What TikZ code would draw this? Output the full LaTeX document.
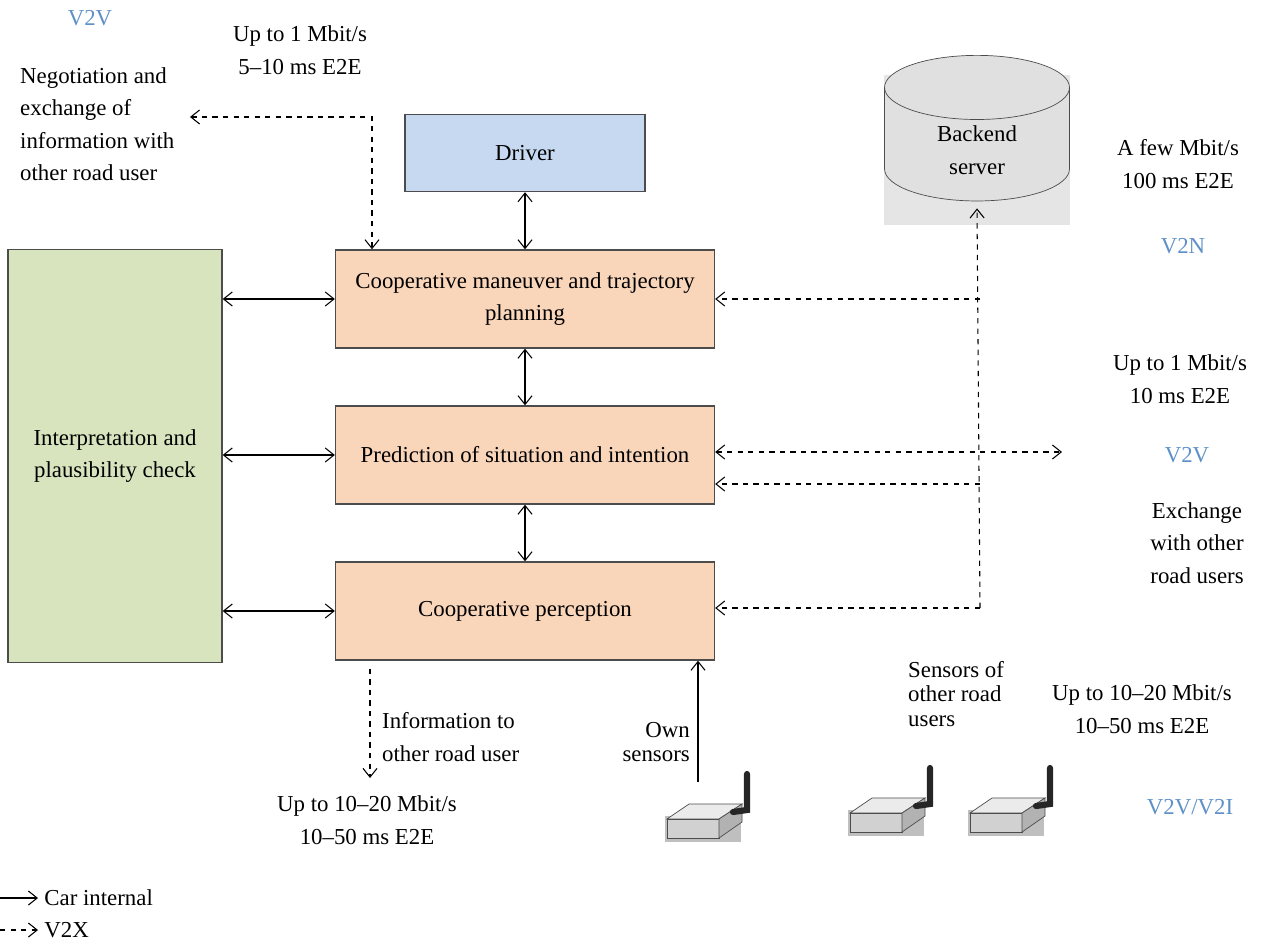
\documentclass[tikz,border=0pt]{standalone}
\usepackage{fontspec}
\setmainfont{Liberation Serif}
\usetikzlibrary{shapes.geometric,arrows.meta,positioning}
\definecolor{v2xblue}{RGB}{95,145,200}
\definecolor{driverfill}{RGB}{198,217,240}
\definecolor{stepfill}{RGB}{249,213,186}
\definecolor{checkfill}{RGB}{215,228,189}

\begin{document}
\begin{tikzpicture}[
        x=0.02cm, y=-0.02cm,
        font=\fontsize{13}{18.5}\selectfont,
        >={Straight Barb[length=5pt,width=8pt]},
        box/.style={rectangle, draw=black!70, thick, fill=stepfill, minimum width=7.58cm, minimum height=1.96cm, align=center, inner sep=2pt},
        inner/.style={<->, semithick},
        outer/.style={<->, semithick, dashed},
        tag/.style={text=v2xblue},
        note/.style={align=center},
        tight/.style={font=\fontsize{13}{14}\selectfont},
        router/.pic={
            \fill[black!25] (-2,44) rectangle (74,70);
            \filldraw[draw=black!70, fill=black!8] (0,47) -- (22,32) -- (75,32) -- (52,47) -- cycle;
            \filldraw[draw=black!70, fill=black!18] (0,47) rectangle (52,66);
            \filldraw[draw=black!70, fill=black!30] (52,47) -- (75,32) -- (75,50) -- (52,66) -- cycle;
            \draw[line width=3.5pt, black!85, line cap=round] (66,40) -- (80,38) -- (80,2);
        }
    ]
    \useasboundingbox (0,0) rectangle (1287,952);

    % Vehicle side
    \node[box, fill=driverfill, minimum width=4.8cm, minimum height=1.54cm] (driver) at (525,153) {Driver};
    \node[box] (maneuver) at (525,299) {Cooperative maneuver and trajectory\\planning};
    \node[box] (prediction) at (525,455) {Prediction of situation and intention};
    \node[box] (perception) at (525,611) {Cooperative perception};
    \node[rectangle, draw=black!70, thick, fill=checkfill, minimum width=4.28cm, minimum height=8.26cm, align=center] (check) at (115,456) {Interpretation and\\plausibility check};

    \fill[black!10] (884,75) rectangle (1070,225);
    \node[cylinder, shape border rotate=90, aspect=0.7, draw=black!70, fill=black!12, minimum width=3.7cm, minimum height=2.9cm, align=center] (server) at (977,150) {Backend\\server};

    % Car internal links
    \draw[inner] (driver) -- (maneuver);
    \draw[inner] (maneuver) -- (prediction);
    \draw[inner] (prediction) -- (perception);
    \draw[inner] (check.east |- maneuver) -- (maneuver);
    \draw[inner] (check.east |- prediction) -- (prediction);
    \draw[inner] (check.east |- perception) -- (perception);

    % V2X links
    \coordinate (negotiate) at (190,117);
    \coordinate (corner) at (372,117);
    \draw[outer] (negotiate) -- (corner) -- (corner |- maneuver.north);
    \coordinate (trunk-top) at (980,299);
    \coordinate (trunk-low) at (980,484);
    \coordinate (trunk-bot) at (980,608);
    \draw[->, semithick, dashed] (trunk-top) -- (trunk-top -| maneuver.east);
    \draw[->, semithick, dashed] (trunk-low) -- (trunk-low -| prediction.east);
    \draw[->, semithick, dashed] (trunk-bot) -- (trunk-bot -| perception.east);
    \draw[->, semithick, dashed] (trunk-bot) -- ([yshift=-4pt]server.south);
    \coordinate (v2v-end) at (1062,452);
    \draw[outer] (v2v-end -| prediction.east) -- (v2v-end);
    \coordinate (info-end) at (370,778);
    \draw[->, semithick, dashed] (info-end |- perception.south) ++(0,8) -- (info-end);
    \coordinate (own-end) at (698,782);
    \draw[->, semithick] (own-end) -- (own-end |- perception.south);

    % Sensors
    \pic at (667,772) {router};
    \pic at (850,766) {router};
    \pic at (970,766) {router};

    % Labels
    \node[tag] (v2v-top) at (90,18) {V2V};
    \node[note] (rate-top) at (300,50) {Up to 1 Mbit/s\\5–10 ms E2E};
    \node[align=left, anchor=west] (negotiate-text) at (14,124) {Negotiation and\\exchange of\\information with\\other road user};
    \node[note] (rate-server) at (1178,164) {A few Mbit/s\\100 ms E2E};
    \node[tag] (v2n) at (1183,246) {V2N};
    \node[note] (rate-mid) at (1180,379) {Up to 1 Mbit/s\\10 ms E2E};
    \node[tag] (v2v-mid) at (1187,455) {V2V};
    \node[note] (exchange) at (1197,543) {Exchange\\with other\\road users};
    \node[align=left, anchor=west, tight] (others) at (902,694) {Sensors of\\other road\\users};
    \node[note] (rate-sensor) at (1142,709) {Up to 10–20 Mbit/s\\10–50 ms E2E};
    \node[tag] (v2v-v2i) at (1190,807) {V2V/V2I};
    \node[align=left, anchor=west] (info-text) at (376,737) {Information to\\other road user};
    \node[note] (rate-info) at (367,820) {Up to 10–20 Mbit/s\\10–50 ms E2E};
    \node[align=right, anchor=east, tight] (own) at (696,742) {Own\\sensors};

    % Legend
    \coordinate (leg-a) at (0,898);
    \coordinate (leg-b) at (0,930);
    \draw[->, semithick] (leg-a) -- ++(38,0) node[right] (leg-int) {Car internal};
    \draw[->, semithick, dashed] (leg-b) -- ++(38,0) node[right] (leg-v2x) {V2X};
\end{tikzpicture}
\end{document}
